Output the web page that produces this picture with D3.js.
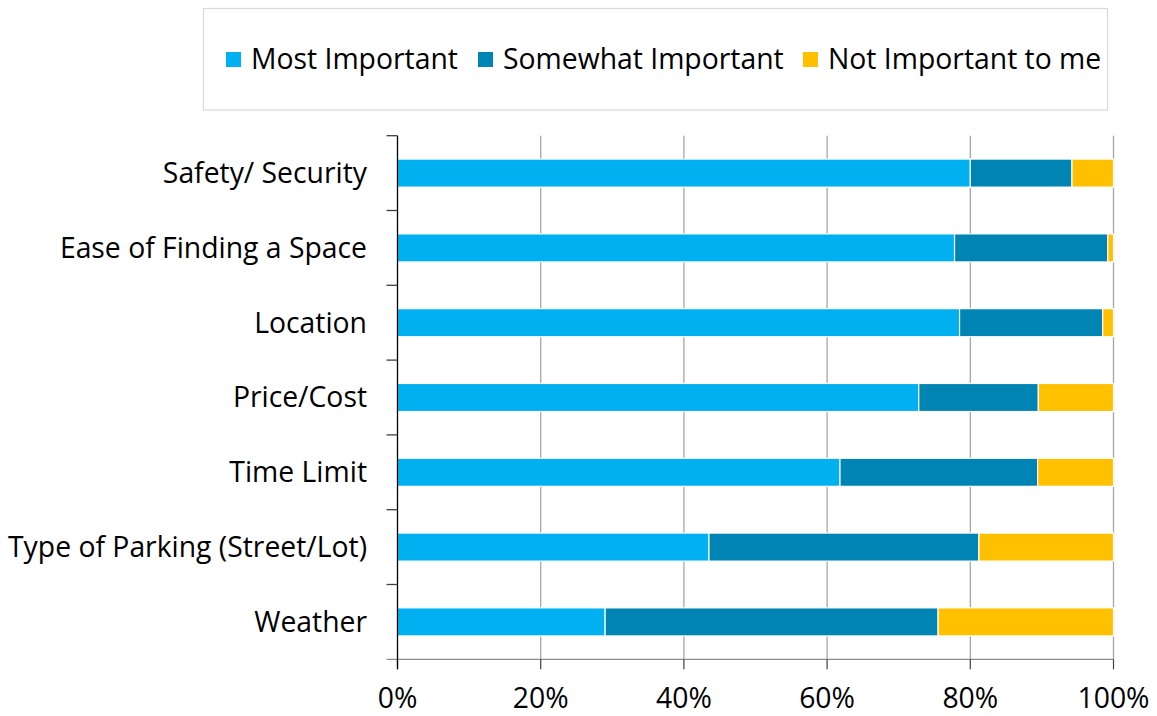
<!DOCTYPE html>
<html>
<head>
<meta charset="utf-8">
<script src="https://cdn.jsdelivr.net/npm/d3@7"></script>
<style>
  html, body { margin: 0; padding: 0; background: #fff; }
  svg { display: block; font-family: "Open Sans", Lato, sans-serif; }
</style>
</head>
<body>
<svg id="chart" width="1157" height="716"></svg>
<script>
// Parking factors, share of responses (%)
const categories = [
  "Safety/ Security",
  "Ease of Finding a Space",
  "Location",
  "Price/Cost",
  "Time Limit",
  "Type of Parking (Street/Lot)",
  "Weather"
];
const seriesNames = ["Most Important", "Somewhat Important", "Not Important to me"];
const mostImportant     = [80.0, 77.8, 78.5, 72.8, 61.8, 43.5, 29.0];
const somewhatImportant = [14.2, 21.4, 20.0, 16.7, 27.6, 37.7, 46.5];
const notImportant      = [5.8, 0.8, 1.5, 10.5, 10.6, 18.8, 24.5];
const xTicks = [0, 20, 40, 60, 80, 100];
const colors = ["#00B0F0", "#0084B4", "#FFC000"];

const svg = d3.select("#chart");
const plot = { left: 397.5, right: 1113.5, top: 135.7, bottom: 659.3 };

// size the type so the longest category label spans 359px
const probe = svg.append("text").attr("font-size", 26).text(categories[5]);
const fontSize = 26 * 359 / probe.node().getComputedTextLength();
probe.remove();

const x = d3.scaleLinear().domain([0, 100]).range([plot.left, plot.right]);
const y = d3.scaleBand().domain(categories).range([plot.top, plot.bottom]).paddingInner(0.625).paddingOuter(0.3125);
const yBand = d3.scaleBand().domain(categories).range([plot.top, plot.bottom]);

const rows = categories.map((c, i) => ({
  category: c,
  "Most Important": mostImportant[i],
  "Somewhat Important": somewhatImportant[i],
  "Not Important to me": notImportant[i]
}));
const stacked = d3.stack().keys(seriesNames)(rows);

// vertical gridlines
svg.append("g")
  .selectAll("line")
  .data(xTicks.slice(1))
  .join("line")
  .attr("x1", d => x(d)).attr("x2", d => x(d))
  .attr("y1", plot.top).attr("y2", plot.bottom)
  .attr("stroke", "#a6a6a6").attr("stroke-width", 1.3);

// stacked bars
svg.append("g")
  .selectAll("g")
  .data(stacked)
  .join("g")
  .attr("fill", (d, i) => colors[i])
  .selectAll("rect")
  .data(d => d)
  .join("rect")
  .attr("x", d => x(d[0]))
  .attr("y", d => y(d.data.category))
  .attr("width", d => x(d[1]) - x(d[0]))
  .attr("height", y.bandwidth())
  .attr("stroke", "#ffffff")
  .attr("stroke-width", 1.2);

// x axis line and ticks
svg.append("line")
  .attr("x1", plot.left - 11).attr("x2", plot.right)
  .attr("y1", plot.bottom).attr("y2", plot.bottom)
  .attr("stroke", "#8c8c8c").attr("stroke-width", 1.3);
svg.append("g")
  .selectAll("line")
  .data(xTicks)
  .join("line")
  .attr("x1", d => x(d)).attr("x2", d => x(d))
  .attr("y1", plot.bottom).attr("y2", plot.bottom + 10)
  .attr("stroke", "#404040").attr("stroke-width", 1.2);
svg.append("g")
  .selectAll("text")
  .data(xTicks)
  .join("text")
  .attr("x", d => x(d))
  .attr("y", 708)
  .attr("text-anchor", "middle")
  .attr("font-size", fontSize)
  .attr("fill", "#000")
  .text(d => d + "%");

// y axis line and category ticks
svg.append("line")
  .attr("x1", plot.left).attr("x2", plot.left)
  .attr("y1", plot.top).attr("y2", plot.bottom + 10)
  .attr("stroke", "#000").attr("stroke-width", 1.3);
const bounds = categories.map(c => yBand(c)).concat([plot.bottom]);
svg.append("g")
  .selectAll("line")
  .data(bounds.slice(0, -1))
  .join("line")
  .attr("x1", plot.left - 11).attr("x2", plot.left)
  .attr("y1", d => d).attr("y2", d => d)
  .attr("stroke", "#404040").attr("stroke-width", 1.3);
svg.append("g")
  .selectAll("text")
  .data(categories)
  .join("text")
  .attr("x", 367)
  .attr("y", d => yBand(d) + yBand.bandwidth() / 2)
  .attr("dy", "0.35em")
  .attr("text-anchor", "end")
  .attr("font-size", fontSize)
  .attr("fill", "#000")
  .text(d => d);

// legend
svg.append("rect")
  .attr("x", 203.5).attr("y", 8.5)
  .attr("width", 904).attr("height", 101.5)
  .attr("fill", "#fff").attr("stroke", "#d9d9d9").attr("stroke-width", 1.2);
const legendX = [226, 478, 803];
const lg = svg.append("g")
  .selectAll("g")
  .data(seriesNames)
  .join("g")
  .attr("transform", (d, i) => `translate(${legendX[i]},52)`);
lg.append("rect")
  .attr("width", 15).attr("height", 15)
  .attr("fill", (d, i) => colors[i]);
lg.append("text")
  .attr("x", 25).attr("y", 7.5)
  .attr("dy", "0.35em")
  .attr("font-size", fontSize)
  .attr("fill", "#000")
  .text(d => d);
</script>
</body>
</html>
